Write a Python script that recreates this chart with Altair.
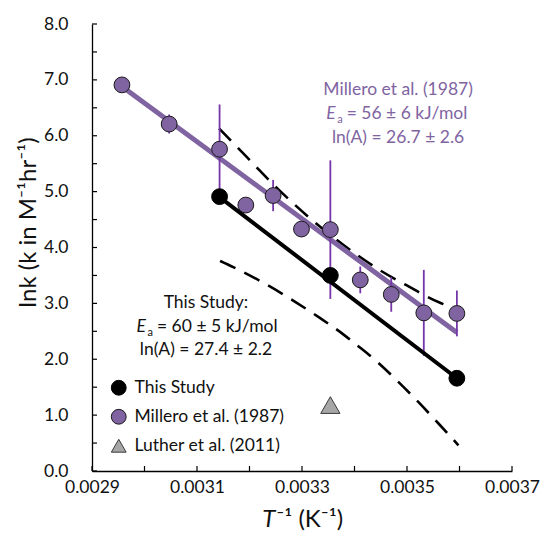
import altair as alt
import pandas as pd

# ---------------- data ----------------
series_names = ["This Study", "Millero et al. (1987)", "Luther et al. (2011)"]
series_fill = ["#000000", "#8064A2", "#A6A6A6"]
series_stroke = ["#000000", "#1a1a1a", "#3a3a3a"]
series_shape = ["circle", "circle", "triangle-up"]

this_x = [0.003143, 0.003354, 0.003595]
this_y = [4.91, 3.50, 1.66]

millero_x = [0.002957, 0.003047, 0.003143, 0.003193, 0.003245, 0.003299,
             0.003354, 0.003411, 0.003470, 0.003532, 0.003595]
millero_y = [6.91, 6.21, 5.76, 4.76, 4.93, 4.33, 4.32, 3.42, 3.16, 2.83, 2.82]
millero_err = [0.10, 0.17, 0.80, 0.12, 0.28, 0.12, 1.24, 0.24, 0.31, 0.77, 0.41]

luther_x = [0.003354]
luther_y = [1.18]

fit_this_x = [0.003143, 0.003595]
fit_this_y = [4.90, 1.66]
fit_millero_x = [0.002957, 0.003595]
fit_millero_y = [6.88, 2.48]

upper_x = [0.003142, 0.003169, 0.003205, 0.003243, 0.003281, 0.003317,
           0.003359, 0.003397, 0.003449, 0.003498, 0.003563, 0.003593]
upper_y = [6.13, 5.87, 5.52, 5.15, 4.81, 4.51, 4.19, 3.92, 3.59, 3.33, 3.01, 2.91]
lower_x = [0.003144, 0.003169, 0.003230, 0.003290, 0.003334, 0.003378,
           0.003405, 0.003445, 0.003483, 0.003521, 0.003560, 0.003598]
lower_y = [3.76, 3.65, 3.35, 3.01, 2.74, 2.45, 2.25, 1.94, 1.60, 1.24, 0.85, 0.46]

x_tick_values = [0.0029, 0.0030, 0.0031, 0.0032, 0.0033, 0.0034, 0.0035, 0.0036, 0.0037]
y_tick_values = [0, 0.5, 1, 1.5, 2, 2.5, 3, 3.5, 4, 4.5, 5, 5.5, 6, 6.5, 7, 7.5, 8]

# annotation texts
mil_center_text = ["Millero et al. (1987)", "ln(A) = 26.7 ± 2.6"]
mil_center_x = [0.003483, 0.003483]
mil_center_y = [6.82, 5.96]
mil_ea_text = ["=  56 ± 6 kJ/mol"]
mil_ea_x = [0.0033851]
mil_ea_y = [6.39]

this_center_text = ["This Study:", "ln(A) = 27.4 ± 2.2"]
this_center_x = [0.003117, 0.003117]
this_center_y = [3.01, 2.16]
this_ea_text = ["= 60 ± 5 kJ/mol"]
this_ea_x = [0.0030238]
this_ea_y = [2.58]

x_title_main = "T"
x_title_rest = "⁻¹ (K⁻¹)"
x_title_anchor = [0.003251]
Y_TITLE = "lnk (k in M⁻¹hr⁻¹)"

PURPLE = "#8064A2"
ERR = "#7436A8"
FONT = "Lato"
FS = 17.5

# ---------------- tables ----------------
pts = pd.DataFrame({
    "x": millero_x + this_x,
    "y": millero_y + this_y,
    "series": [series_names[1]] * len(millero_x) + [series_names[0]] * len(this_x),
})
lut = pd.DataFrame({"x": luther_x, "y": luther_y, "series": [series_names[2]] * len(luther_x)})
err = pd.DataFrame({
    "x": millero_x,
    "lo": [v - e for v, e in zip(millero_y, millero_err)],
    "hi": [v + e for v, e in zip(millero_y, millero_err)],
})
fit_this = pd.DataFrame({"x": fit_this_x, "y": fit_this_y})
fit_mil = pd.DataFrame({"x": fit_millero_x, "y": fit_millero_y})
bands = pd.DataFrame({
    "x": upper_x + lower_x,
    "y": upper_y + lower_y,
    "band": ["upper"] * len(upper_x) + ["lower"] * len(lower_x),
})
xt = pd.DataFrame({"x": x_tick_values})
yt = pd.DataFrame({"y": y_tick_values})
xtitle_df = pd.DataFrame({"x": x_title_anchor})

xs = alt.Scale(domain=[0.0029, 0.0037], nice=False, zero=False)
ys = alt.Scale(domain=[0, 8], nice=False, zero=False)

x_axis = alt.Axis(
    values=x_tick_values, ticks=False, grid=False, title=None,
    labelExpr="round(datum.value*10000) % 2 == 1 ? format(datum.value, '.4f') : ''",
    labelPadding=7, labelOverlap=False, labelFlush=False,
)
y_axis = alt.Axis(
    values=y_tick_values, ticks=False, grid=False,
    labelExpr="datum.value % 1 == 0 ? format(datum.value, '.1f') : ''",
    labelPadding=24, labelOverlap=False, labelFlush=False,
    titleX=-64, titleY=198, titleAngle=270, titleBaseline="middle", titleAlign="center",
)


def X(field="x"):
    return alt.X(field, type="quantitative", scale=xs, axis=x_axis, title=None)


def Y(field="y"):
    return alt.Y(field, type="quantitative", scale=ys, axis=y_axis, title=Y_TITLE)


band_layer = alt.Chart(bands).mark_line(
    color="black", strokeWidth=2.6, strokeDash=[17, 10], interpolate="monotone"
).encode(x=X(), y=Y(), detail="band:N")

fit_mil_layer = alt.Chart(fit_mil).mark_line(color=PURPLE, strokeWidth=5).encode(x=X(), y=Y())
fit_this_layer = alt.Chart(fit_this).mark_line(color="black", strokeWidth=4).encode(x=X(), y=Y())

err_layer = alt.Chart(err).mark_rule(color=ERR, strokeWidth=1.8).encode(
    x=X(), y=Y("lo"), y2="hi"
)

legend = alt.Legend(
    orient="none", legendX=18, legendY=355, title=None, direction="vertical",
    labelFont=FONT, labelFontSize=FS, labelColor="#111111", labelOffset=7,
    symbolSize=220, symbolStrokeWidth=1, rowPadding=9,
)
fill_enc = alt.Fill("series:N", scale=alt.Scale(domain=series_names, range=series_fill), legend=legend)
shape_enc = alt.Shape("series:N", scale=alt.Scale(domain=series_names, range=series_shape), legend=legend)
stroke_enc = alt.Stroke("series:N", scale=alt.Scale(domain=series_names, range=series_stroke), legend=legend)

lut_layer = alt.Chart(lut).mark_point(
    filled=True, strokeWidth=1, opacity=1, size=370
).encode(x=X(), y=Y(), fill=fill_enc, shape=shape_enc, stroke=stroke_enc)

point_layer = alt.Chart(pts).mark_point(
    filled=True, strokeWidth=1, opacity=1, size=250
).encode(x=X(), y=Y(), fill=fill_enc, shape=shape_enc, stroke=stroke_enc)

xtick_layer = alt.Chart(xt).mark_rule(color="black", strokeWidth=1.2).encode(
    x=X(), y=alt.value(447), y2=alt.value(442)
)
ytick_layer = alt.Chart(yt).mark_rule(color="black", strokeWidth=1.2).encode(
    y=Y(), x=alt.value(0), x2=alt.value(5)
)

# x-axis title (italic T + superscripts), placed below the axis
xtitle_T = alt.Chart(xtitle_df).mark_text(
    font=FONT, fontSize=24, fontStyle="italic", color="#111111", align="right",
    baseline="middle", text=x_title_main, dx=-1
).encode(x=X(), y=alt.value(496))
xtitle_rest = alt.Chart(xtitle_df).mark_text(
    font=FONT, fontSize=24, color="#111111", align="left",
    baseline="middle", text=x_title_rest
).encode(x=X(), y=alt.value(496))

mil_c = pd.DataFrame({"x": mil_center_x, "y": mil_center_y, "t": mil_center_text})
mil_e = pd.DataFrame({"x": mil_ea_x, "y": mil_ea_y, "t": mil_ea_text})
this_c = pd.DataFrame({"x": this_center_x, "y": this_center_y, "t": this_center_text})
this_e = pd.DataFrame({"x": this_ea_x, "y": this_ea_y, "t": this_ea_text})


def txt(df, color, align="center", **kw):
    return alt.Chart(df).mark_text(
        font=FONT, fontSize=kw.pop("fontSize", FS), color=color, align=align,
        baseline="middle", **kw
    ).encode(x=X(), y=Y(), text="t:N")


def txt_const(df, s, color, **kw):
    return alt.Chart(df).mark_text(
        font=FONT, color=color, baseline="middle", text=s, **kw
    ).encode(x=X(), y=Y())


text_layers = [
    txt(mil_c, PURPLE),
    txt(mil_e, PURPLE, align="left"),
    txt_const(mil_e, "E", PURPLE, align="right", dx=-11, fontSize=FS, fontStyle="italic"),
    txt_const(mil_e, "a", PURPLE, align="right", dx=-4, dy=6, fontSize=11),
    txt(this_c, "#111111"),
    txt(this_e, "#111111", align="left"),
    txt_const(this_e, "E", "#111111", align="right", dx=-11, fontSize=FS, fontStyle="italic"),
    txt_const(this_e, "a", "#111111", align="right", dx=-4, dy=6, fontSize=11),
]

chart = alt.layer(
    band_layer, fit_mil_layer, err_layer, fit_this_layer, lut_layer, point_layer,
    xtick_layer, ytick_layer, xtitle_T, xtitle_rest, *text_layers
).properties(
    width=420, height=447,
    autosize=alt.AutoSizeParams(type="none"),
    padding={"left": 92, "top": 24, "right": 32, "bottom": 74},
    background="white",
).configure_view(stroke=None).configure_axis(
    domainColor="black", domainWidth=1.3,
    labelFont=FONT, labelFontSize=FS, labelColor="#111111",
    titleFont=FONT, titleFontSize=24, titleFontWeight="normal", titleColor="#111111",
)

chart.save("out.html", embed_options={"renderer": "svg", "actions": False})
